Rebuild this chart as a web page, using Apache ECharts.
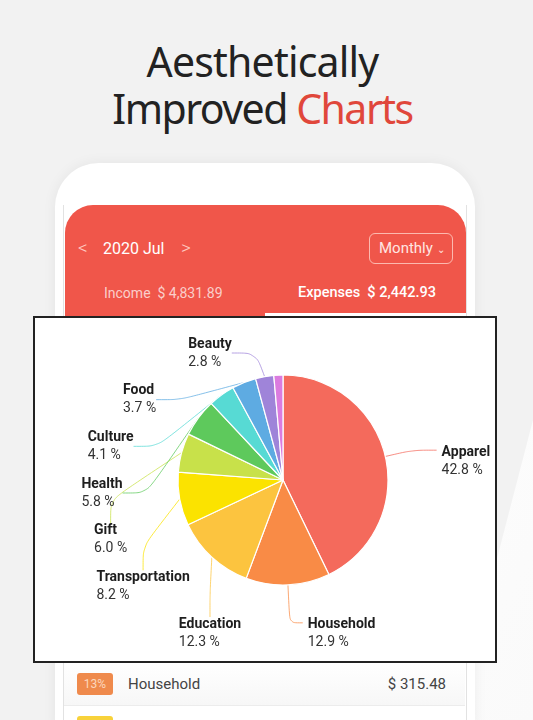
<!DOCTYPE html>
<html>
<head>
<meta charset="utf-8">
<script src="https://cdn.jsdelivr.net/npm/echarts@6/dist/echarts.min.js"></script>
<style>
html,body{margin:0;padding:0;}
body{width:533px;height:720px;background:#f2f2f2;position:relative;overflow:hidden;font-family:Roboto,"Noto Sans",sans-serif;}
.swoosh{position:absolute;left:0;top:0;width:533px;height:720px;background:linear-gradient(120deg,rgba(255,255,255,0) 60%,rgba(255,255,255,0.9) 61%,#fafafa 100%);clip-path:polygon(533px 420px,533px 720px,455px 720px);}
.title{position:absolute;left:-4px;width:533px;text-align:center;font-family:"Noto Sans",sans-serif;font-size:41px;color:#222;line-height:46px;}
.phone{position:absolute;left:55px;top:163px;width:420px;height:600px;background:#fff;border-radius:44px;box-shadow:0 0 14px rgba(0,0,0,0.06);}
.screen{position:absolute;left:63px;top:205px;width:402px;height:560px;border-left:1px solid #e2e2e2;border-right:1px solid #e2e2e2;background:#fff;}
.header{position:absolute;left:65px;top:205px;width:401px;height:111px;background:#f0564a;border-radius:28px 28px 0 0;color:#fff;}
.hd{position:absolute;font-size:15px;white-space:nowrap;}
.chev{position:absolute;font-size:19px;font-weight:300;color:#ffc9c0;top:31px;}
.monthly{position:absolute;left:304px;top:28px;width:84px;height:31px;border:1px solid rgba(255,210,200,0.8);border-radius:6px;box-sizing:border-box;color:#ffe6e2;font-size:15px;line-height:29px;padding-left:9px;}
.tabline{position:absolute;left:200px;top:108px;width:201px;height:3px;background:#fff;}
#chart{position:absolute;left:33px;top:316px;width:460px;height:343px;border:2px solid #222;background:#fff;}
.row{position:absolute;left:64px;top:662px;width:401px;height:43px;border-bottom:1px solid #ececec;background:linear-gradient(#fff,#f7f7f7);}
.badge{position:absolute;left:13px;top:11px;width:36px;height:22px;border-radius:3px;background:#ef8a4c;color:#fcd7bd;font-size:12px;line-height:22px;text-align:center;}
.badge2{position:absolute;left:77px;top:716px;width:36px;height:10px;border-radius:3px;background:#f8d23a;}
</style>
</head>
<body>
<div class="swoosh"></div>
<div class="title" style="top:38px;letter-spacing:-0.8px;">Aesthetically</div>
<div class="title" style="top:85px;letter-spacing:-1.5px;">Improved <span style="color:#e0473b">Charts</span></div>
<div class="phone"></div>
<div class="screen"></div>
<div class="header">
  <div class="chev" style="left:13px;">&lt;</div>
  <div class="hd" style="left:38px;top:34px;font-size:16px;">2020 Jul</div>
  <div class="chev" style="left:116px;">&gt;</div>
  <div class="monthly">Monthly <span style="font-size:10px;">&#8964;</span></div>
  <div class="hd" style="left:39px;top:80px;font-size:14px;color:rgba(255,255,255,0.72);">Income&nbsp; $ 4,831.89</div>
  <div class="hd" style="left:233px;top:79px;font-size:14.5px;font-weight:500;color:#fff;">Expenses&nbsp; $ 2,442.93</div>
  <div class="tabline"></div>
</div>
<div class="row">
  <div class="badge">13%</div>
  <div style="position:absolute;left:64px;top:13px;font-size:15px;color:#444;">Household</div>
  <div style="position:absolute;right:19px;top:13px;font-size:15px;color:#444;">$ 315.48</div>
</div>
<div class="badge2"></div>
<div id="chart"></div>
<script>
const categories = ['Apparel','Household','Education','Transportation','Gift','Health','Culture','Food','Beauty','Others'];
const percents = [42.8, 12.9, 12.3, 8.2, 6.0, 5.8, 4.1, 3.7, 2.8, 1.4];
const colors = ['#f46a5c','#f98b46','#fcc43f','#fbe300','#c8e14a','#5ec95c','#57dad4','#5eabe2','#9f84d9','#db7bdf'];
const showLabel = [true,true,true,true,true,true,true,true,true,false];

const CX = 248, CY = 162, R = 105;
// mid angle of each slice, degrees clockwise from 12 o'clock
const total = percents.reduce((a,b)=>a+b,0);
const midAngles = [];
let acc = 0;
percents.forEach(v=>{ midAngles.push((acc + v/2)/total*360); acc += v; });
// labels on the left half are stacked evenly along an ellipse
const leftIdx = categories.map((c,i)=>i).filter(i=>showLabel[i] && midAngles[i] > 180)
  .sort((a,b)=>midAngles[b]-midAngles[a]);
const EY0 = 13, ESPAN = 140, EA = 181, EB = 153;

const chart = echarts.init(document.getElementById('chart'), null, {renderer:'canvas'});
const data = categories.map((c,i)=>{
  const item = {
    name:c, value:percents[i],
    itemStyle:{color:colors[i]},
    label:{show:showLabel[i]},
    labelLine:{show:showLabel[i], lineStyle:{color:colors[i], opacity:0.75}}
  };
  if (midAngles[i] > 150 && midAngles[i] <= 180) { item.labelLine.length = 38; item.labelLine.length2 = 13; } // bottom label drops lower
  return item;
});
chart.setOption({
  animation:false,
  series:[{
    type:'pie',
    center:[CX,CY],
    radius:[0,R],
    startAngle:90,
    clockwise:true,
    avoidLabelOverlap:true,
    itemStyle:{borderColor:'#fff',borderWidth:1.2},
    label:{
      overflow:'none',
      edgeDistance:2,
      formatter:p=>'{n|'+p.name+'}\n{v|'+p.value.toFixed(1)+' %}',
      rich:{
        n:{fontFamily:'Roboto',fontWeight:'bold',fontSize:14,color:'#1e1e1e',lineHeight:18,align:'left'},
        v:{fontFamily:'Roboto',fontSize:14,color:'#333',lineHeight:18,align:'left'}
      }
    },
    labelLine:{length:28,length2:24,smooth:0.3,lineStyle:{width:1}},
    labelLayout:function(p){
      const k = leftIdx.indexOf(p.dataIndex);
      if (k < 0) return { dy: p.labelRect.height/2 - 5 };
      const n = leftIdx.length;
      const d = -ESPAN + k*(2*ESPAN/(n-1));
      const xr = EA*Math.sqrt(Math.max(0, 1-(d/EB)*(d/EB)));
      return { x: CX - xr, y: CY + EY0 + d, align:'center', verticalAlign:'middle' };
    },
    data:data
  }]
});
</script>
</body>
</html>
